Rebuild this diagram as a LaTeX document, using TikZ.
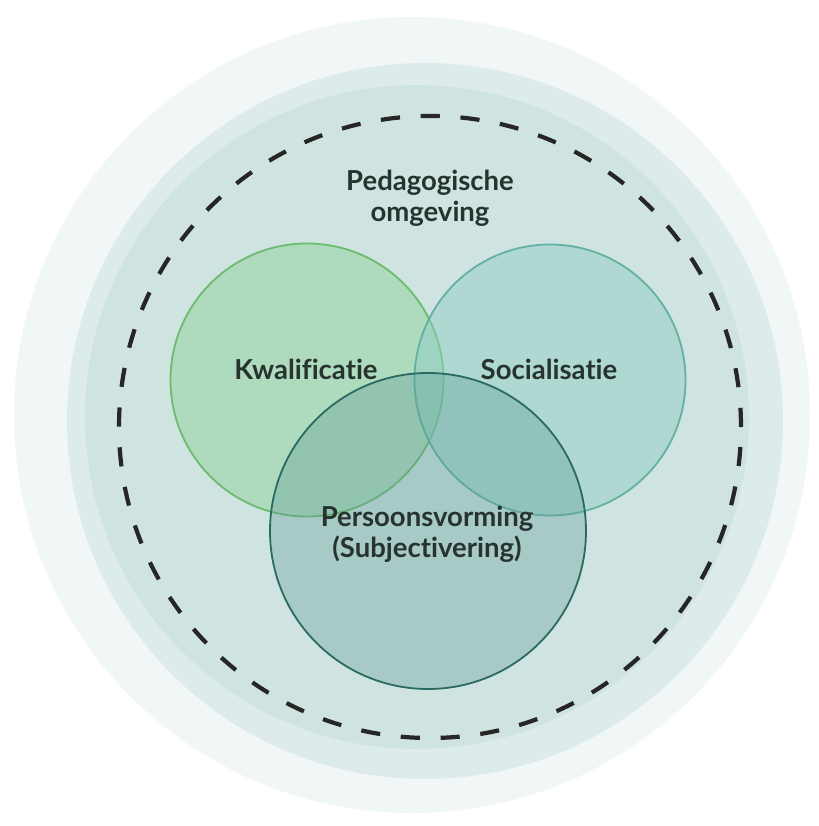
\documentclass[tikz,border=0pt]{standalone}
\usepackage{fontspec}
\setmainfont[Ligatures=NoCommon]{Lato}
\begin{document}
\begin{tikzpicture}[x=1pt,y=-1pt,
  ring/.style={circle,inner sep=0pt,draw=none},
  venn/.style={circle,inner sep=0pt,line width=1.8pt},
  lbl/.style={font=\bfseries\fontsize{27.5}{31}\selectfont,text=txt,align=center,inner sep=0pt}]
\definecolor{bg1}{HTML}{F1F7F6}
\definecolor{bg2}{HTML}{DDECEA}
\definecolor{bg3}{HTML}{CFE4E1}
\definecolor{txt}{HTML}{26332F}
\definecolor{kfill}{HTML}{8FD39A}
\definecolor{kline}{HTML}{6DBB6C}
\definecolor{sfill}{HTML}{8ECDC3}
\definecolor{sline}{HTML}{64B0A3}
\definecolor{pfill}{HTML}{5E9A95}
\definecolor{pline}{HTML}{2A6A62}
\useasboundingbox (0,0) rectangle (818,826);
\fill[white] (0,0) rectangle (818,826);
\node[ring,fill=bg1,minimum size=796pt] (outer) at (412,415) {};
\node[ring,fill=bg2,minimum size=716pt] (middle) at (425,421) {};
\node[ring,fill=bg3,minimum size=664pt] (inner) at (417,417) {};
\node[circle,inner sep=0pt,minimum size=622pt,draw=black!85,line width=4.2pt,
  dash pattern=on 19.2pt off 20.7pt] (env) at (430,427) {};
\node[venn,fill=kfill,fill opacity=0.5,draw=kline,minimum size=273pt] (kwal) at (307,380) {};
\node[venn,fill=sfill,fill opacity=0.5,draw=sline,minimum size=271pt] (soc) at (550,380) {};
\node[venn,fill=pfill,fill opacity=0.35,draw=pline,minimum size=316pt] (pers) at (428,531) {};
\node[lbl] (tped) at (430,198) {Pedagogische\\omgeving};
\node[lbl] (tkwal) at (306,369) {Kwalificatie};
\node[lbl] (tsoc) at (549,369) {Socialisatie};
\node[lbl] (tpers) at (427,534) {Persoonsvorming\\(Subjectivering)};
\end{tikzpicture}
\end{document}
